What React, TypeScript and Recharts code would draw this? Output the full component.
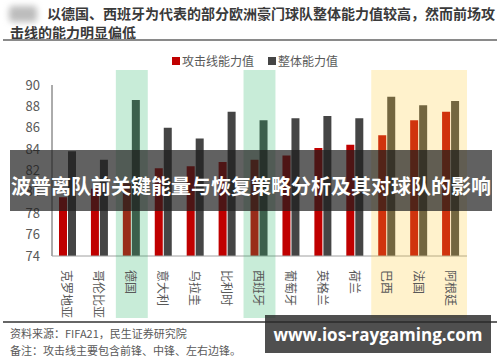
import { Bar, BarChart, ReferenceArea, XAxis, YAxis } from "recharts";

const teams = ["克罗地亚", "哥伦比亚", "德国", "意大利", "乌拉圭", "比利时", "西班牙", "葡萄牙", "英格兰", "荷兰", "巴西", "法国", "阿根廷"];
const attackValues = [79.5, 80.3, 80.8, 82.2, 82.4, 82.8, 83.0, 83.4, 84.1, 84.4, 85.3, 86.7, 87.5];
const overallValues = [83.8, 83.0, 88.6, 86.0, 85.0, 87.5, 86.7, 86.9, 87.1, 86.9, 88.9, 88.1, 88.5];
const yTicks = [74, 76, 78, 80, 82, 84, 86, 88, 90];

const data = teams.map((team, i) => ({ team, attack: attackValues[i], overall: overallValues[i] }));

const FONT = '"Noto Sans CJK SC", "Noto Sans", sans-serif';

// vertical category labels, read top to bottom
function VerticalTick(props: any) {
  const { x, y, payload } = props;
  return (
    <text
      x={x}
      y={y + 6}
      transform={`rotate(90 ${x} ${y + 6})`}
      textAnchor="start"
      dominantBaseline="central"
      fill="#595959"
      fontSize={12}
      fontFamily={FONT}
    >
      {payload.value}
    </text>
  );
}

function LegendBox() {
  const item = (color: string, label: string) => (
    <span style={{ display: "inline-flex", alignItems: "center", marginRight: 14 }}>
      <span style={{ width: 8, height: 8, background: color, marginRight: 2 }} />
      <span>{label}</span>
    </span>
  );
  return (
    <div style={{ position: "absolute", left: 172, top: 54, fontSize: 12, color: "#595959", display: "flex", lineHeight: "14px", whiteSpace: "nowrap" }}>
      {item("#c00000", "攻击线能力值")}
      {item("#454545", "整体能力值")}
    </div>
  );
}

export default function App() {
  return (
    <div style={{ position: "absolute", left: 0, top: 0, width: 500, height: 362, background: "#fff", overflow: "hidden", fontFamily: FONT }}>
      {/* header */}
      <div style={{ position: "absolute", left: 9, top: 6, width: 28, height: 16, background: "#bdbdbd", filter: "blur(3px)", borderRadius: 4 }} />
      <div style={{ position: "absolute", left: 10, top: 4, width: 485, fontSize: 14, fontWeight: 700, color: "#3a3a3a", lineHeight: "19px", textIndent: 37 }}>
        以德国、西班牙为代表的部分欧洲豪门球队整体能力值较高，然而前场攻击线的能力明显偏低
      </div>
      <div style={{ position: "absolute", left: 3, top: 39, width: 494, height: 2, background: "#8a8a8a" }} />

      <LegendBox />

      <div style={{ position: "absolute", left: 0, top: 0 }}>
        <BarChart
          width={500}
          height={362}
          data={data}
          margin={{ top: 85, right: 33, bottom: 46, left: 12 }}
          barSize={8}
          barGap={1}
        >
          <YAxis
            domain={[74, 90]}
            ticks={yTicks}
            width={40}
            tickLine={false}
            tickSize={0}
            tickMargin={12}
            axisLine={{ stroke: "#595959", strokeWidth: 1 }}
            tick={{ fill: "#595959", fontSize: 13, fontFamily: FONT }}
            allowDataOverflow
          />
          <XAxis
            dataKey="team"
            interval={0}
            tickLine={false}
            axisLine={{ stroke: "#a0a0a0", strokeWidth: 1 }}
            tick={<VerticalTick />}
            height={60}
          />
          <Bar dataKey="attack" fill="#c00000" isAnimationActive={false} />
          <Bar dataKey="overall" fill="#454545" isAnimationActive={false} />
          <ReferenceArea x1="德国" x2="德国" y1={68.2} y2={91.4} fill="#23b363" fillOpacity={0.25} ifOverflow="visible" zIndex={600} />
          <ReferenceArea x1="西班牙" x2="西班牙" y1={68.2} y2={91.4} fill="#23b363" fillOpacity={0.25} ifOverflow="visible" zIndex={600} />
          <ReferenceArea x1="巴西" x2="阿根廷" y1={68.2} y2={91.4} fill="#ffcb33" fillOpacity={0.25} ifOverflow="visible" zIndex={600} />
        </BarChart>
      </div>

      {/* footer */}
      <div style={{ position: "absolute", left: 3, top: 321, width: 494, height: 1.5, background: "#666" }} />
      <div style={{ position: "absolute", left: 10, top: 325, fontSize: 11, color: "#595959", lineHeight: "17px", whiteSpace: "nowrap" }}>
        资料来源：FIFA21，民生证券研究院
        <br />
        备注：攻击线主要包含前锋、中锋、左右边锋。
      </div>

      {/* overlays */}
      <div
        style={{
          position: "absolute", left: 10, top: 150, width: 482, height: 61,
          background: "rgba(30,30,30,0.7)", color: "#fff", fontSize: 20, fontWeight: 700,
          display: "flex", alignItems: "flex-end", justifyContent: "center", whiteSpace: "nowrap",
          boxSizing: "border-box", lineHeight: "50px",
        }}
      >
        波普离队前关键能量与恢复策略分析及其对球队的影响
      </div>
      <div
        style={{
          position: "absolute", left: 265, top: 315, width: 226, height: 38,
          background: "rgba(40,40,40,0.82)", color: "#fff", fontSize: 17, fontWeight: 700, whiteSpace: "nowrap",
          display: "flex", alignItems: "center", justifyContent: "center", fontFamily: '"Open Sans", "DejaVu Sans", sans-serif',
        }}
      >
        www.ios-raygaming.com
      </div>
    </div>
  );
}
